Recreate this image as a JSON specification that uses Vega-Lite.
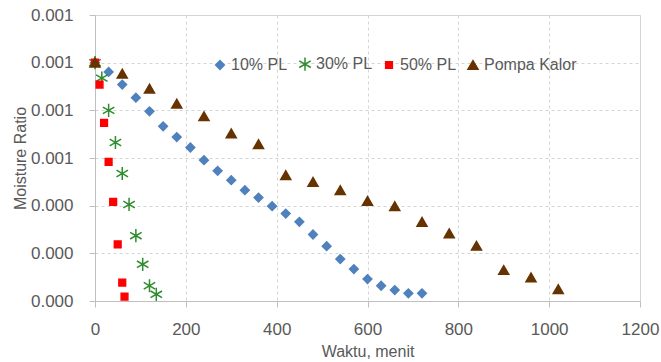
{
  "$schema": "https://vega.github.io/schema/vega-lite/v6.json",
  "width": 545,
  "height": 286,
  "autosize": "none",
  "padding": {"left": 95, "top": 15, "right": 21, "bottom": 61},
  "background": "white",
  "config": {
    "font": "Liberation Sans",
    "view": {"stroke": "#d9d6cc", "strokeWidth": 1}
  },
  "data": {
    "values": [
      {"t": 0, "mr": 0.001, "s": "10% PL"},
      {"t": 30, "mr": 0.000961, "s": "10% PL"},
      {"t": 60, "mr": 0.000908, "s": "10% PL"},
      {"t": 90, "mr": 0.000853, "s": "10% PL"},
      {"t": 120, "mr": 0.000796, "s": "10% PL"},
      {"t": 150, "mr": 0.000733, "s": "10% PL"},
      {"t": 180, "mr": 0.000688, "s": "10% PL"},
      {"t": 210, "mr": 0.000644, "s": "10% PL"},
      {"t": 240, "mr": 0.000591, "s": "10% PL"},
      {"t": 270, "mr": 0.000546, "s": "10% PL"},
      {"t": 300, "mr": 0.000507, "s": "10% PL"},
      {"t": 330, "mr": 0.000465, "s": "10% PL"},
      {"t": 360, "mr": 0.000434, "s": "10% PL"},
      {"t": 390, "mr": 0.000398, "s": "10% PL"},
      {"t": 420, "mr": 0.000367, "s": "10% PL"},
      {"t": 450, "mr": 0.000332, "s": "10% PL"},
      {"t": 480, "mr": 0.000279, "s": "10% PL"},
      {"t": 510, "mr": 0.00023, "s": "10% PL"},
      {"t": 540, "mr": 0.000176, "s": "10% PL"},
      {"t": 570, "mr": 0.000134, "s": "10% PL"},
      {"t": 600, "mr": 0.000092, "s": "10% PL"},
      {"t": 630, "mr": 0.000064, "s": "10% PL"},
      {"t": 660, "mr": 0.000046, "s": "10% PL"},
      {"t": 690, "mr": 0.000032, "s": "10% PL"},
      {"t": 720, "mr": 0.000032, "s": "10% PL"},
      {"t": 0, "mr": 0.001, "s": "30% PL"},
      {"t": 15, "mr": 0.000935, "s": "30% PL"},
      {"t": 30, "mr": 0.0008, "s": "30% PL"},
      {"t": 45, "mr": 0.000665, "s": "30% PL"},
      {"t": 60, "mr": 0.000535, "s": "30% PL"},
      {"t": 75, "mr": 0.000405, "s": "30% PL"},
      {"t": 90, "mr": 0.000274, "s": "30% PL"},
      {"t": 105, "mr": 0.000154, "s": "30% PL"},
      {"t": 120, "mr": 0.000064, "s": "30% PL"},
      {"t": 135, "mr": 0.000028, "s": "30% PL"},
      {"t": 0, "mr": 0.001, "s": "50% PL"},
      {"t": 10, "mr": 0.000908, "s": "50% PL"},
      {"t": 20, "mr": 0.000747, "s": "50% PL"},
      {"t": 30, "mr": 0.000584, "s": "50% PL"},
      {"t": 40, "mr": 0.000416, "s": "50% PL"},
      {"t": 50, "mr": 0.000238, "s": "50% PL"},
      {"t": 60, "mr": 0.0000767, "s": "50% PL"},
      {"t": 65, "mr": 0.000018, "s": "50% PL"},
      {"t": 0, "mr": 0.001, "s": "Pompa Kalor"},
      {"t": 60, "mr": 0.000954, "s": "Pompa Kalor"},
      {"t": 120, "mr": 0.000891, "s": "Pompa Kalor"},
      {"t": 180, "mr": 0.000828, "s": "Pompa Kalor"},
      {"t": 240, "mr": 0.000775, "s": "Pompa Kalor"},
      {"t": 300, "mr": 0.000703, "s": "Pompa Kalor"},
      {"t": 360, "mr": 0.000658, "s": "Pompa Kalor"},
      {"t": 420, "mr": 0.000528, "s": "Pompa Kalor"},
      {"t": 480, "mr": 0.0005, "s": "Pompa Kalor"},
      {"t": 540, "mr": 0.000465, "s": "Pompa Kalor"},
      {"t": 600, "mr": 0.00042, "s": "Pompa Kalor"},
      {"t": 660, "mr": 0.000398, "s": "Pompa Kalor"},
      {"t": 720, "mr": 0.000332, "s": "Pompa Kalor"},
      {"t": 780, "mr": 0.000284, "s": "Pompa Kalor"},
      {"t": 840, "mr": 0.000232, "s": "Pompa Kalor"},
      {"t": 900, "mr": 0.00013, "s": "Pompa Kalor"},
      {"t": 960, "mr": 0.0000993, "s": "Pompa Kalor"},
      {"t": 1020, "mr": 0.00005, "s": "Pompa Kalor"}
    ]
  },
  "mark": {"type": "point", "filled": true, "opacity": 1, "strokeWidth": 1.5},
  "encoding": {
    "x": {
      "field": "t",
      "type": "quantitative",
      "scale": {"domain": [0, 1200], "nice": false, "zero": true},
      "axis": {
        "title": "Waktu, menit",
        "values": [0, 200, 400, 600, 800, 1000, 1200],
        "format": "d",
        "grid": true,
        "gridColor": "#d4d4d4",
        "gridDash": [3, 3],
        "domainColor": "#bfbfbf",
        "tickColor": "#bfbfbf",
        "tickSize": 6,
        "labelPadding": 14,
        "labelFontSize": 17,
        "labelColor": "#595959",
        "labelFlush": false,
        "titleFontSize": 16,
        "titleFontWeight": "normal",
        "titleColor": "#595959",
        "titleBaseline": "alphabetic",
        "titleY": 55
      }
    },
    "y": {
      "field": "mr",
      "type": "quantitative",
      "scale": {"domain": [0, 0.0012], "nice": false},
      "axis": {
        "title": "Moisture Ratio",
        "values": [0, 0.0002, 0.0004, 0.0006, 0.0008, 0.001, 0.0012],
        "format": ".3f",
        "grid": true,
        "gridColor": "#d4d4d4",
        "gridDash": [3, 3],
        "domainColor": "#bfbfbf",
        "tickColor": "#bfbfbf",
        "tickSize": 6,
        "labelPadding": 16,
        "labelFontSize": 17,
        "labelColor": "#595959",
        "titleFontSize": 16,
        "titleFontWeight": "normal",
        "titleColor": "#595959",
        "titleX": -75,
        "titleBaseline": "middle"
      }
    },
    "color": {
      "field": "s",
      "type": "nominal",
      "scale": {"domain": ["10% PL", "30% PL", "50% PL", "Pompa Kalor"], "range": ["#4f81bd", "#2e8b2e", "#ff0000", "#663300"]},
      "legend": {
        "title": null,
        "orient": "none",
        "direction": "horizontal",
        "legendX": 117,
        "legendY": 41,
        "padding": 0,
        "columnPadding": 8,
        "labelOffset": 3,
        "labelFontSize": 16,
        "labelColor": "#595959",
        "symbolStrokeWidth": 1.5
      }
    },
    "stroke": {
      "field": "s",
      "type": "nominal",
      "scale": {"domain": ["10% PL", "30% PL", "50% PL", "Pompa Kalor"], "range": ["#4f81bd", "#2e8b2e", "#ff0000", "#663300"]},
      "legend": {
        "title": null,
        "orient": "none",
        "direction": "horizontal",
        "legendX": 117,
        "legendY": 41,
        "padding": 0,
        "columnPadding": 8,
        "labelOffset": 3,
        "labelFontSize": 16,
        "labelColor": "#595959",
        "symbolStrokeWidth": 1.5
      }
    },
    "shape": {
      "field": "s",
      "type": "nominal",
      "scale": {"domain": ["10% PL", "30% PL", "50% PL", "Pompa Kalor"], "range": ["diamond", "M0,-1L0,1M-0.87,-0.5L0.87,0.5M-0.87,0.5L0.87,-0.5", "square", "triangle-up"]},
      "legend": {
        "title": null,
        "orient": "none",
        "direction": "horizontal",
        "legendX": 117,
        "legendY": 41,
        "padding": 0,
        "columnPadding": 8,
        "labelOffset": 3,
        "labelFontSize": 16,
        "labelColor": "#595959",
        "symbolStrokeWidth": 1.5
      }
    },
    "size": {
      "field": "s",
      "type": "nominal",
      "scale": {"type": "ordinal", "domain": ["10% PL", "30% PL", "50% PL", "Pompa Kalor"], "range": [75, 175, 45, 100]},
      "legend": {
        "title": null,
        "orient": "none",
        "direction": "horizontal",
        "legendX": 117,
        "legendY": 41,
        "padding": 0,
        "columnPadding": 8,
        "labelOffset": 3,
        "labelFontSize": 16,
        "labelColor": "#595959",
        "symbolStrokeWidth": 1.5
      }
    }
  }
}
